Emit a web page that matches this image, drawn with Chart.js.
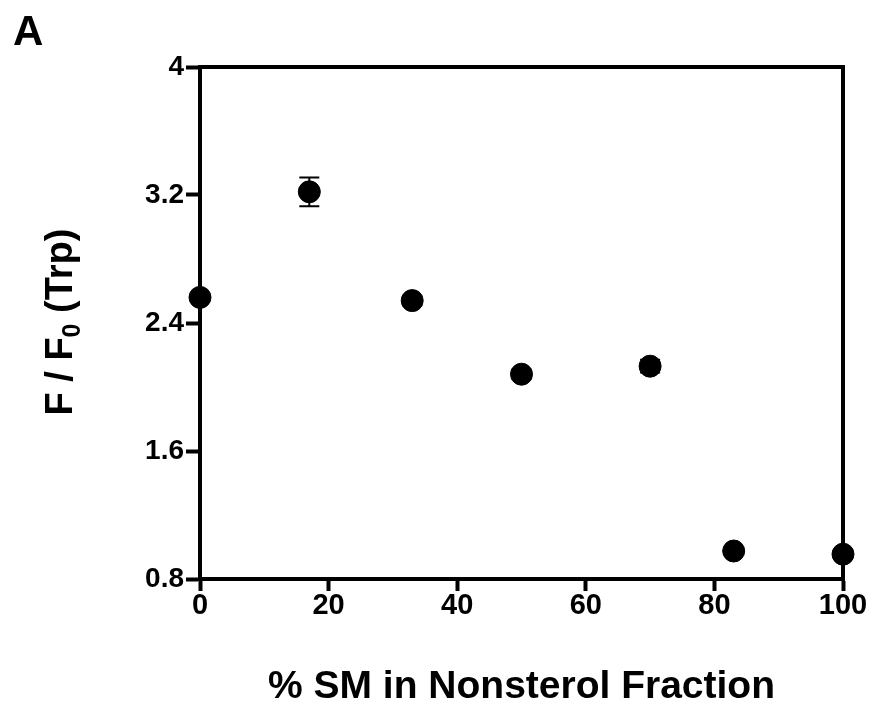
<!DOCTYPE html>
<html>
<head>
<meta charset="utf-8">
<script src="https://cdn.jsdelivr.net/npm/chart.js@4"></script>
<style>
  html, body { margin: 0; padding: 0; background: #fff; }
  #wrap { width: 872px; height: 702px; position: relative; }
</style>
</head>
<body>
<div id="wrap"><canvas id="fChart"></canvas></div>
<script>
  // data
  const smPercent = [0, 17, 33, 50, 70, 83, 100];
  const fRatio = [2.56, 3.22, 2.54, 2.08, 2.13, 0.975, 0.955];
  const fError = [0.02, 0.09, 0.03, 0.03, 0.04, 0.02, 0.03];
  const xTicks = [0, 20, 40, 60, 80, 100];
  const yTicks = [0.8, 1.6, 2.4, 3.2, 4];
  const yTickLabels = ['0.8', '1.6', '2.4', '3.2', '4'];

  const FONT = '"Liberation Sans", Arial, sans-serif';

  // box round the plot, error bars, panel letter, axis titles
  const extras = {
    id: 'extras',
    beforeDatasetsDraw(chart) {
      const { ctx, chartArea: a } = chart;
      ctx.save();
      ctx.strokeStyle = '#000';
      ctx.lineWidth = 4;
      ctx.strokeRect(a.left, a.top, a.right - a.left, a.bottom - a.top);
      ctx.restore();
    },
    afterDatasetsDraw(chart) {
      const { ctx } = chart;
      const xs = chart.scales.x, ys = chart.scales.y;
      ctx.save();
      ctx.strokeStyle = '#000';
      ctx.lineWidth = 2;
      smPercent.forEach((x, i) => {
        const px = xs.getPixelForValue(x);
        const top = ys.getPixelForValue(fRatio[i] + fError[i]);
        const bot = ys.getPixelForValue(fRatio[i] - fError[i]);
        ctx.beginPath();
        ctx.moveTo(px, top); ctx.lineTo(px, bot);
        ctx.moveTo(px - 10, top); ctx.lineTo(px + 10, top);
        ctx.moveTo(px - 10, bot); ctx.lineTo(px + 10, bot);
        ctx.stroke();
      });
      ctx.restore();
    },
    afterDraw(chart) {
      const { ctx, chartArea: a } = chart;
      ctx.save();
      ctx.fillStyle = '#000';
      ctx.textBaseline = 'alphabetic';
      ctx.font = 'bold 42px ' + FONT;
      ctx.fillText('A', 13, 45);

      // x axis title
      ctx.font = 'bold 39px ' + FONT;
      ctx.textAlign = 'center';
      ctx.fillText('% SM in Nonsterol Fraction', (a.left + a.right) / 2, 698);
      ctx.textAlign = 'left';

      // y axis title: F / F0 (Trp)
      ctx.translate(72, 322);
      ctx.rotate(-Math.PI / 2);
      const big = 'bold 38px ' + FONT, small = 'bold 25px ' + FONT;
      ctx.font = big;
      const p1 = 'F / F', p3 = ' (Trp)';
      const w1 = ctx.measureText(p1).width, w3 = ctx.measureText(p3).width;
      ctx.font = small;
      const w2 = ctx.measureText('0').width;
      let x = -(w1 + w2 + w3) / 2;
      ctx.font = big;
      ctx.fillText(p1, x, 0);
      x += w1;
      ctx.font = small;
      ctx.fillText('0', x, 8);
      x += w2;
      ctx.font = big;
      ctx.fillText(p3, x, 0);
      ctx.restore();
    }
  };

  const ctx = document.getElementById('fChart').getContext('2d');
  const fChart = new Chart(ctx, {
    type: 'scatter',
    data: {
      datasets: [{
        data: smPercent.map((x, i) => ({ x: x, y: fRatio[i] })),
        backgroundColor: '#000',
        borderColor: '#000',
        pointRadius: 11,
        pointHoverRadius: 11,
        clip: false
      }]
    },
    options: {
      responsive: true,
      maintainAspectRatio: false,
      animation: false,
      layout: { padding: { top: 67, right: 29, left: 0, bottom: 0 } },
      plugins: {
        legend: { display: false },
        tooltip: { enabled: false }
      },
      scales: {
        x: {
          type: 'linear',
          min: 0,
          max: 100,
          afterBuildTicks: (s) => { s.ticks = xTicks.map(v => ({ value: v })); },
          afterFit: (s) => { s.height = 123; },
          ticks: {
            color: '#000',
            font: { family: FONT, size: 29, weight: 'bold' },
            padding: -2,
            maxRotation: 0
          },
          grid: { drawOnChartArea: false, color: '#000', tickLength: 12, tickWidth: 4 },
          border: { display: true, color: '#000', width: 4 }
        },
        y: {
          type: 'linear',
          min: 0.8,
          max: 4,
          afterBuildTicks: (s) => { s.ticks = yTicks.map(v => ({ value: v })); },
          afterFit: (s) => { s.width = 200; },
          ticks: {
            color: '#000',
            font: { family: FONT, size: 28, weight: 'bold' },
            padding: 2,
            callback: (v) => yTickLabels[yTicks.indexOf(v)]
          },
          grid: { drawOnChartArea: false, color: '#000', tickLength: 14, tickWidth: 4 },
          border: { display: true, color: '#000', width: 4 }
        }
      }
    },
    plugins: [extras]
  });
</script>
</body>
</html>
